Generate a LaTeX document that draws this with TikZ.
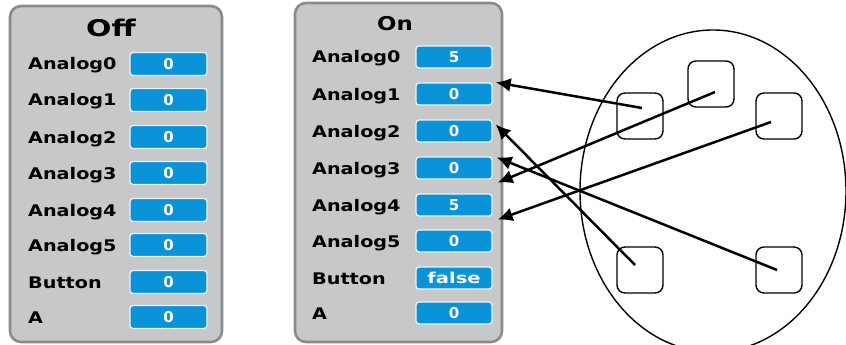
\documentclass[tikz,border=0pt]{standalone}
\usepackage{fontspec}
\usetikzlibrary{arrows.meta,calc,shapes.geometric}
\newfontfamily\uifont{DejaVu Sans}[FakeStretch=1.2]
\newfontfamily\uifontw{DejaVu Sans}[FakeStretch=1.3]
\newfontfamily\uifontn{DejaVu Sans}
\definecolor{panelgray}{HTML}{C6C8CA}
\definecolor{panelborder}{HTML}{8A8B8D}
\definecolor{valblue}{HTML}{0A93D8}
\definecolor{valedge}{HTML}{EAF4F8}
\tikzset{
  panel/.style={draw=panelborder, fill=panelgray, line width=2.6pt, rounded corners=11pt, inner sep=0pt},
  valbox/.style={draw=valedge, fill=valblue, line width=1.3pt, rounded corners=3pt,
     minimum width=76pt, minimum height=22pt, inner sep=0pt, text=white,
     font=\fontsize{15}{15}\selectfont\bfseries\uifontn},
  lbl/.style={anchor=base west, inner sep=0pt, font=\fontsize{16}{16}\selectfont\bfseries\uifont, text=black},
  sq/.style={draw, line width=1.4pt, rounded corners=8pt, minimum width=46pt, minimum height=46pt, inner sep=0pt},
  arr/.style={line width=2.5pt, -{Latex[length=15pt,width=14pt]}},
}
\begin{document}
\begin{tikzpicture}[x=1pt,y=-1pt]
\useasboundingbox (0,0) rectangle (846,345);
% panels
\node[panel, minimum width=212pt, minimum height=336pt] (offpanel) at (116,174) {};
\node[panel, minimum width=207pt, minimum height=339pt] (onpanel) at (398.5,172.5) {};
\node[inner sep=0pt, font=\fontsize{23}{23}\selectfont\bfseries\uifontw] (offtitle) at (111,28) {Off};
\node[inner sep=0pt, font=\fontsize{19}{19}\selectfont\bfseries\uifont] (ontitle) at (395,24) {On};
% Off panel rows
\foreach \i/\t/\y in {0/Analog0/64, 1/Analog1/100, 2/Analog2/137, 3/Analog3/173, 4/Analog4/210, 5/Analog5/245, 6/Button/282, 7/A/317} {
  \node[lbl] (offl\i) at (28,\y+6) {\t};
  \node[valbox, minimum width=77pt, minimum height=23pt] (offv\i) at (168.5,\y) {0};
}
% On panel rows
\foreach \i/\t/\y/\v in {0/Analog0/57/5, 1/Analog1/94/0, 2/Analog2/131/0, 3/Analog3/168/0, 4/Analog4/205/5, 5/Analog5/241/0, 7/A/313/0} {
  \node[lbl] (onl\i) at (312,\y+6) {\t};
  \node[valbox] (onv\i) at (454,\y) {\v};
}
\node[lbl] (onl6) at (312,278+6) {Button};
\node[valbox, font=\fontsize{15}{15}\selectfont\bfseries\uifontw] (onv6) at (454,278) {false};
% ellipse and squares
\node[draw, ellipse, line width=1.4pt, minimum width=266pt, minimum height=322pt, inner sep=0pt] (blob) at (713,191) {};
\node[sq] (s1) at (640,116) {};
\node[sq] (s2) at (711,84) {};
\node[sq] (s3) at (779,116) {};
\node[sq] (s4) at (640,270) {};
\node[sq] (s5) at (779,270) {};
\coordinate (p1) at ($(s1.center)+(2,-8)$);
\coordinate (p2) at ($(s2.center)+(4,8)$);
\coordinate (p3) at ($(s3.center)+(-8,6)$);
\coordinate (p4) at ($(s4.center)+(-5,-5)$);
\coordinate (p5) at ($(s5.center)+(-2,0)$);
% arrows
\draw[arr] (p1) -- ($(onv1.north east)+(3,0)$);
\draw[arr] (p4) -- ($(onv2.north east)+(3,5)$);
\draw[arr] (p5) -- ($(onv3.north east)+(4,1)$);
\draw[arr] (p2) -- ($(onv3.south east)+(5,3)$);
\draw[arr] (p3) -- ($(onv4.south east)+(5,3)$);
\end{tikzpicture}
\end{document}
